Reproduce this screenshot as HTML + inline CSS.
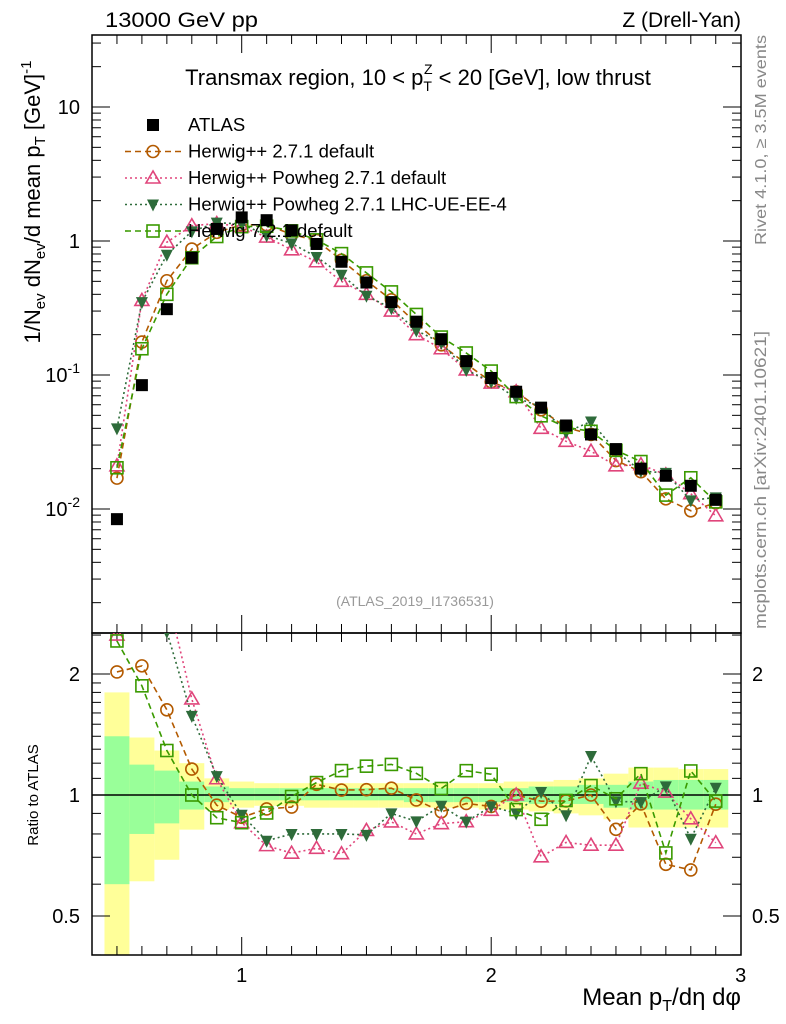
<!DOCTYPE html>
<html><head><meta charset="utf-8"><style>
body{margin:0;background:#fff}
svg{display:block;font-family:"Liberation Sans",sans-serif}
</style></head><body>
<svg id="c" width="786" height="1024" viewBox="0 0 786 1024">
<defs>
<clipPath id="cm"><rect x="92" y="35" width="649" height="598"/></clipPath>
<clipPath id="cr"><rect x="92" y="633" width="649" height="322"/></clipPath>
</defs>
<g id="bands" clip-path="url(#cr)"></g>
<g id="axes"></g>
<g id="series"></g>
<text x="105" y="27" font-size="21" textLength="153" lengthAdjust="spacingAndGlyphs">13000 GeV pp</text>
<text x="741" y="27" font-size="21" text-anchor="end">Z (Drell-Yan)</text>
<text x="418" y="85" font-size="22" text-anchor="middle">Transmax region, 10 &lt; p<tspan font-size="14" dy="6">T</tspan><tspan font-size="14" dx="-8" dy="-17">Z</tspan><tspan dy="11"> &lt; 20 [GeV], low thrust</tspan></text>
<text x="415" y="606" font-size="14" fill="#999" text-anchor="middle">(ATLAS_2019_I1736531)</text>
<text transform="translate(766,140) rotate(-90)" font-size="16" fill="#888" text-anchor="middle" textLength="210" lengthAdjust="spacingAndGlyphs">Rivet 4.1.0, ≥ 3.5M events</text>
<text transform="translate(766,480) rotate(-90)" font-size="17" fill="#888" text-anchor="middle" textLength="298" lengthAdjust="spacingAndGlyphs">mcplots.cern.ch [arXiv:2401.10621]</text>
<text transform="translate(40,202) rotate(-90)" font-size="22" text-anchor="middle">1/N<tspan font-size="15" dy="5">ev</tspan><tspan dy="-5"> dN</tspan><tspan font-size="15" dy="5">ev</tspan><tspan dy="-5">/d mean p</tspan><tspan font-size="15" dy="5">T</tspan><tspan dy="-5"> [GeV]</tspan><tspan font-size="15" dy="-9">-1</tspan></text>
<text transform="translate(38,795) rotate(-90)" font-size="15" text-anchor="middle">Ratio to ATLAS</text>
<text x="741" y="1005" font-size="24" text-anchor="end">Mean p<tspan font-size="16" dy="6">T</tspan><tspan dy="-6">/dη dφ</tspan></text>
<g id="legend"></g>
</svg>
<script>
const xs=[0.5,0.6,0.7,0.8,0.9,1.0,1.1,1.2,1.3,1.4,1.5,1.6,1.7,1.8,1.9,2.0,2.1,2.2,2.3,2.4,2.5,2.6,2.7,2.8,2.9];
const atlas=[0.0084,0.084,0.31,0.75,1.23,1.5,1.43,1.2,0.95,0.70,0.49,0.35,0.25,0.185,0.127,0.095,0.075,0.057,0.042,0.036,0.028,0.020,0.0177,0.0149,0.0117];
const hwpp=[0.017,0.176,0.505,0.87,1.16,1.32,1.32,1.12,1.01,0.72,0.505,0.364,0.243,0.168,0.121,0.089,0.075,0.055,0.0406,0.036,0.023,0.019,0.0119,0.0097,0.0111];
const powDef=[0.021,0.36,0.98,1.30,1.35,1.28,1.07,0.86,0.70,0.50,0.40,0.30,0.20,0.157,0.109,0.087,0.075,0.040,0.032,0.027,0.021,0.0214,0.018,0.0130,0.0089];
const powUE=[0.040,0.35,0.79,1.18,1.37,1.34,1.10,0.96,0.76,0.56,0.39,0.315,0.215,0.174,0.109,0.089,0.0675,0.058,0.0374,0.045,0.027,0.0192,0.0186,0.0116,0.0122];
const hw7=[0.0203,0.157,0.40,0.75,1.08,1.28,1.29,1.19,1.02,0.805,0.578,0.417,0.283,0.192,0.146,0.107,0.069,0.0496,0.0407,0.038,0.0274,0.0226,0.0127,0.0171,0.0113];
const yelHi=[1.80,1.39,1.29,1.20,1.10,1.08,1.07,1.07,1.07,1.07,1.07,1.07,1.07,1.07,1.07,1.07,1.08,1.08,1.09,1.10,1.13,1.17,1.17,1.16,1.16];
const yelLo=[0.3,0.61,0.69,0.82,0.92,0.93,0.94,0.94,0.93,0.93,0.93,0.93,0.93,0.93,0.93,0.92,0.92,0.91,0.90,0.89,0.87,0.83,0.83,0.83,0.83];
const grnHi=[1.40,1.19,1.15,1.08,1.05,1.04,1.04,1.04,1.04,1.04,1.04,1.04,1.04,1.04,1.04,1.04,1.04,1.05,1.05,1.06,1.06,1.08,1.09,1.09,1.09];
const grnLo=[0.60,0.80,0.85,0.92,0.96,0.97,0.97,0.97,0.97,0.97,0.97,0.97,0.96,0.96,0.96,0.96,0.96,0.95,0.95,0.95,0.93,0.92,0.92,0.92,0.92];
const xTicks=[1,2,3];
const yTicks=[10,1,0.1,0.01];
const yTickLabels=["10","1","10^-1","10^-2"];
const rTicks=[2,1,0.5];
const rTickLabels=["2","1","0.5"];
const legendNames=["ATLAS","Herwig++ 2.7.1 default","Herwig++ Powheg 2.7.1 default","Herwig++ Powheg 2.7.1 LHC-UE-EE-4","Herwig 7.2.1 default"];

const NS="http://www.w3.org/2000/svg";
const X=v=>92+(v-0.4)*249.5;
const Y=v=>241-134*Math.log10(v);
const R=v=>795-121*Math.log2(v);
function el(tag,attrs,parent){const e=document.createElementNS(NS,tag);for(const k in attrs)e.setAttribute(k,attrs[k]);parent.appendChild(e);return e;}
const axes=document.getElementById('axes'),bands=document.getElementById('bands'),ser=document.getElementById('series'),leg=document.getElementById('legend');

xs.forEach((x,i)=>{
  const x0=X(x-0.05),x1=X(x+0.05);
  const y=el('rect',{x:x0,y:R(yelHi[i]),width:x1-x0,height:R(yelLo[i])-R(yelHi[i]),fill:'#ffff99'},bands);
  
  
  const g=el('rect',{x:x0,y:R(grnHi[i]),width:x1-x0,height:R(grnLo[i])-R(grnHi[i]),fill:'#99ff99'},bands);
  
  
});

const f1=el('rect',{x:92,y:35,width:649,height:598,fill:'none',stroke:'#000','stroke-width':1.5},axes);


const f2=el('rect',{x:92,y:633,width:649,height:322,fill:'none',stroke:'#000','stroke-width':1.5},axes);


const one=el('line',{x1:92,x2:741,y1:R(1),y2:R(1),stroke:'#000','stroke-width':1.5},axes);



for(let k=5;k<=29;k++){const v=k/10;const major=(k%10===0);const L=major?18:9;
  [[35,1],[633,-1],[633,1],[955,-1]].forEach(([y0,d])=>el('line',{x1:X(v),x2:X(v),y1:y0,y2:y0+d*L,stroke:'#000'},axes));}
xTicks.forEach(v=>{const t=el('text',{x:X(v),y:982,'font-size':20,'text-anchor':'middle'},axes);t.textContent=v;
  
  });
for(let d=-3;d<=1;d++)for(let m=1;m<=9;m++){const v=m*Math.pow(10,d);const y=Y(v);if(y<35||y>633)continue;const L=m===1?18:9;
  el('line',{x1:92,x2:92+L,y1:y,y2:y,stroke:'#000'},axes);el('line',{x1:741,x2:741-L,y1:y,y2:y,stroke:'#000'},axes);}
yTicks.forEach((v,i)=>{const t=el('text',{x:80,y:Y(v)+7,'font-size':20,'text-anchor':'end'},axes);
  const s=yTickLabels[i].split('^');t.textContent=s[0];if(s[1]){const sp=el('tspan',{'font-size':14,dy:-9},t);sp.textContent=s[1];}
  
  });
[0.4,0.5,0.6,0.7,0.8,0.9,1,1.1,1.2,1.3,1.4,1.5,1.6,1.7,1.8,1.9,2,2.5].forEach(v=>{const y=R(v);if(y<633||y>955)return;const L=(v===0.5||v===1||v===2)?18:9;
  el('line',{x1:92,x2:92+L,y1:y,y2:y,stroke:'#000'},axes);el('line',{x1:741,x2:741-L,y1:y,y2:y,stroke:'#000'},axes);});
rTicks.forEach((v,i)=>{[[80,'end'],[752,'start']].forEach(([x,a])=>{const t=el('text',{x:x,y:R(v)+7,'font-size':20,'text-anchor':a},axes);t.textContent=rTickLabels[i];
  
  });});

function marker(type,x,y,color,parent){
  if(type==='sq')return el('rect',{x:x-6,y:y-6,width:12,height:12,fill:'#000'},parent);
  if(type==='osq')return el('rect',{x:x-6,y:y-6,width:12,height:12,fill:'none',stroke:color,'stroke-width':1.6},parent);
  if(type==='circ')return el('circle',{cx:x,cy:y,r:6,fill:'none',stroke:color,'stroke-width':1.6},parent);
  if(type==='tri')return el('polygon',{points:`${x},${y-7} ${x-7},${y+5} ${x+7},${y+5}`,fill:'none',stroke:color,'stroke-width':1.6},parent);
  if(type==='dtri')return el('polygon',{points:`${x},${y+7} ${x-6},${y-5} ${x+6},${y-5}`,fill:color},parent);
}
const mcs=[
 {d:hwpp,c:'#b35a00',m:'circ',dash:'6,4',n:'herwigpp-default'},
 {d:powDef,c:'#e0457b',m:'tri',dash:'2,3',n:'herwigpp-powheg-default'},
 {d:powUE,c:'#2e6b3a',m:'dtri',dash:'2,3',n:'herwigpp-powheg-ue-ee-4'},
 {d:hw7,c:'#3a9a00',m:'osq',dash:'6,4',n:'herwig7-default'}];
const gm=el('g',{'clip-path':'url(#cm)'},ser),gr=el('g',{'clip-path':'url(#cr)'},ser);
mcs.forEach(s=>{
  const p=el('polyline',{points:xs.map((x,i)=>X(x)+','+Y(s.d[i])).join(' '),fill:'none',stroke:s.c,'stroke-width':1.6,'stroke-dasharray':s.dash},gm);
  
  
  xs.forEach((x,i)=>{const m=marker(s.m,X(x),Y(s.d[i]),s.c,gm);
    
    });
  const q=el('polyline',{points:xs.map((x,i)=>X(x)+','+R(s.d[i]/atlas[i])).join(' '),fill:'none',stroke:s.c,'stroke-width':1.6,'stroke-dasharray':s.dash},gr);
  
  
  xs.forEach((x,i)=>{const m=marker(s.m,X(x),R(s.d[i]/atlas[i]),s.c,gr);
    
    });
});
xs.forEach((x,i)=>{const m=marker('sq',X(x),Y(atlas[i]),'#000',gm);
  
  });

const lstyle=[{m:'sq',c:'#000'},{m:'circ',c:'#b35a00',dash:'6,4'},{m:'tri',c:'#e0457b',dash:'2,3'},{m:'dtri',c:'#2e6b3a',dash:'2,3'},{m:'osq',c:'#3a9a00',dash:'6,4'}];
legendNames.forEach((n,i)=>{const y=125+i*26.5;const g=el('g',{},leg);
  
  
  const s=lstyle[i];
  if(s.dash)el('line',{x1:125,x2:182,y1:y,y2:y,stroke:s.c,'stroke-width':1.6,'stroke-dasharray':s.dash},g);
  marker(s.m,153,y,s.c,g);
  const t=el('text',{x:188,y:y+6,'font-size':18.5},g);t.textContent=n;});
</script>
</body></html>
